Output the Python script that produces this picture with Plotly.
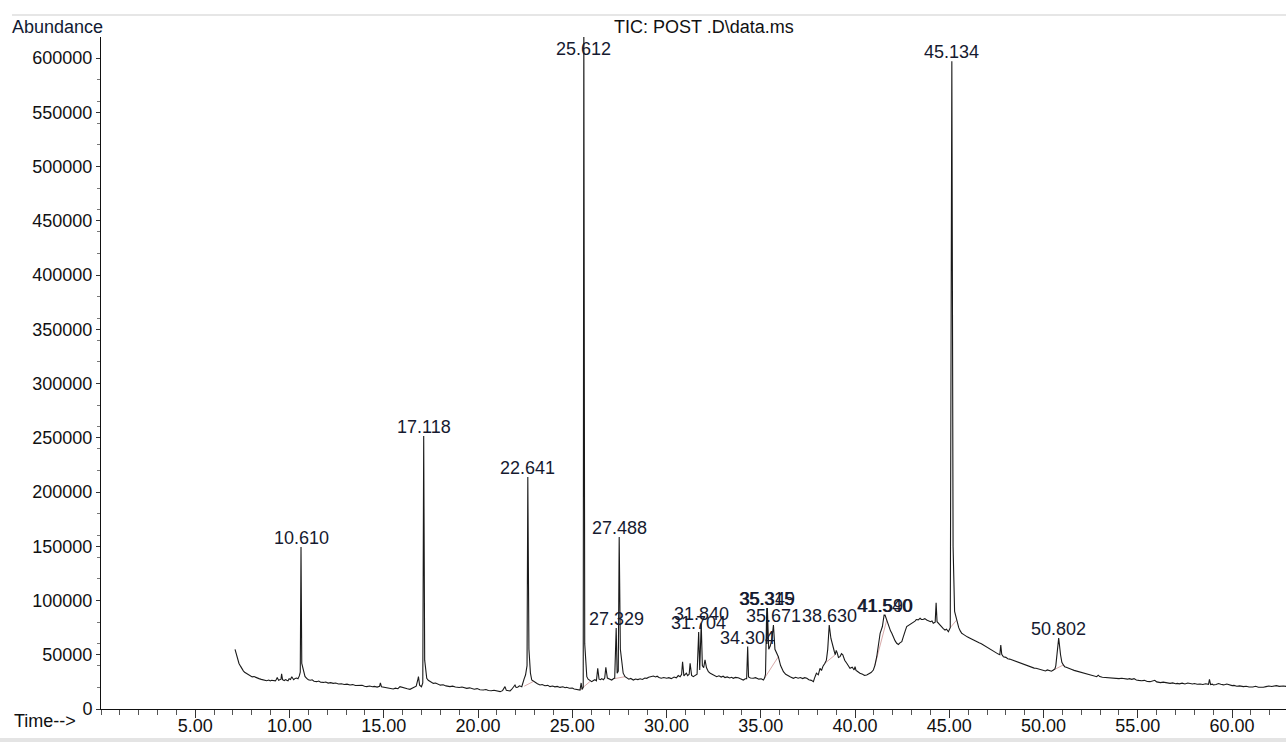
import plotly.graph_objects as go

# Total ion chromatogram, (retention time in min, abundance) pairs by time window
rt_07_11 = [
    (7.11, 55000), (7.18, 50500), (7.23, 47000), (7.32, 42000), (7.40, 39500), (7.46, 37500),
    (7.55, 35200), (7.62, 33800), (7.72, 32600), (7.82, 31300), (7.92, 30800), (8.02, 29600),
    (8.12, 29900), (8.26, 28500), (8.38, 28000), (8.50, 27300), (8.62, 27000), (8.70, 26400),
    (8.79, 26100), (8.90, 26700), (8.98, 25900), (9.05, 26500), (9.15, 26200), (9.25, 26000),
    (9.30, 27200), (9.35, 29000), (9.42, 26400), (9.50, 27000), (9.55, 27500), (9.58, 32500),
    (9.63, 27000), (9.72, 26200), (9.80, 27100), (9.85, 26500), (9.92, 26000), (9.98, 27800),
    (10.05, 27200), (10.12, 29800), (10.17, 27500), (10.22, 27000), (10.30, 28200),
    (10.38, 28500), (10.45, 27900), (10.52, 30500), (10.57, 34000), (10.61, 149300),
    (10.65, 42000), (10.73, 35900), (10.82, 30000), (10.91, 28300),
]
rt_11_17 = [
    (11.00, 27000), (11.10, 26500), (11.20, 26900), (11.30, 25600), (11.44, 25200),
    (11.55, 25800), (11.65, 24700), (11.80, 24500), (11.92, 24900), (12.05, 23900),
    (12.18, 24300), (12.32, 23600), (12.45, 23900), (12.60, 23100), (12.75, 23200),
    (12.90, 22600), (13.05, 22900), (13.21, 22100), (13.35, 22500), (13.50, 21700),
    (13.70, 21600), (13.85, 21900), (13.98, 21000), (14.10, 20600), (14.25, 21200),
    (14.40, 20500), (14.50, 20800), (14.65, 20200), (14.78, 21000), (14.82, 24000),
    (14.88, 20400), (15.00, 20100), (15.10, 19600), (15.20, 19500), (15.35, 19000),
    (15.50, 18400), (15.62, 19200), (15.75, 18700), (15.86, 20600), (15.98, 19800),
    (16.10, 19000), (16.25, 18600), (16.39, 18100), (16.50, 19000), (16.60, 19500),
    (16.72, 21000), (16.80, 26500), (16.84, 29800), (16.90, 22000), (17.00, 20500),
    (17.07, 24000), (17.118, 251600), (17.17, 45000), (17.28, 28300), (17.36, 26500),
    (17.45, 25500), (17.55, 24400), (17.63, 23600), (17.75, 23900), (17.88, 22600),
]
rt_18_25 = [
    (18.00, 22000), (18.15, 22400), (18.30, 21300), (18.51, 20600), (18.65, 21100),
    (18.80, 20200), (19.00, 19800), (19.15, 20300), (19.28, 19400), (19.40, 19000),
    (19.55, 19500), (19.68, 18600), (19.80, 18200), (19.95, 18800), (20.10, 17800),
    (20.28, 17500), (20.42, 17900), (20.55, 17100), (20.70, 16800), (20.85, 17300),
    (21.00, 16400), (21.17, 16000), (21.30, 16900), (21.43, 20600), (21.50, 17200),
    (21.55, 17000), (21.70, 16600), (21.78, 18000), (21.85, 19500), (21.96, 22100),
    (22.02, 19800), (22.10, 20000), (22.20, 21400), (22.32, 20600), (22.45, 28000),
    (22.52, 31300), (22.60, 40000), (22.641, 213800), (22.70, 55000), (22.78, 33000),
    (22.85, 26700), (22.95, 25500), (23.05, 24000), (23.15, 23200), (23.29, 22100),
    (23.40, 22600), (23.55, 21400), (23.70, 21800), (23.82, 20600), (23.95, 21200),
    (24.08, 20400), (24.20, 20800), (24.35, 19900), (24.50, 20500), (24.62, 19600),
    (24.70, 20000), (24.85, 19100), (25.00, 19300), (25.10, 18500), (25.25, 18200),
    (25.41, 17500), (25.47, 24000), (25.52, 18000), (25.58, 20000), (25.612, 640000),
    (25.66, 60000), (25.72, 35000), (25.77, 29800), (25.84, 27500), (25.90, 26500),
    (25.97, 25800),
]
rt_26_33 = [
    (26.03, 25200), (26.12, 26300), (26.20, 27000), (26.28, 26000), (26.35, 37500),
    (26.42, 27500), (26.50, 27100), (26.56, 28000), (26.65, 27000), (26.72, 28500),
    (26.78, 38400), (26.86, 28500), (26.95, 27600), (27.02, 27200), (27.09, 26700),
    (27.18, 27900), (27.25, 28500), (27.329, 74600), (27.38, 33000), (27.44, 35000),
    (27.488, 158500), (27.55, 55000), (27.62, 45000), (27.70, 33000), (27.80, 29800),
    (27.90, 28600), (28.00, 27500), (28.10, 28200), (28.24, 26700), (28.35, 27600),
    (28.48, 27100), (28.60, 27800), (28.72, 27200), (28.85, 28600), (28.95, 28300),
    (29.05, 29300), (29.18, 29900), (29.30, 30400), (29.42, 29600), (29.50, 30200),
    (29.60, 29000), (29.72, 28400), (29.85, 29000), (30.01, 28300), (30.12, 28900),
    (30.25, 28000), (30.40, 29500), (30.52, 28700), (30.62, 30800), (30.72, 29800),
    (30.80, 32000), (30.85, 43600), (30.92, 30500), (30.98, 31500), (31.05, 33000),
    (31.12, 30800), (31.20, 32000), (31.25, 42100), (31.33, 31000), (31.42, 29800),
    (31.50, 30500), (31.62, 32000), (31.704, 71000), (31.76, 36000), (31.840, 79000),
    (31.90, 40000), (31.97, 38000), (32.04, 45200), (32.12, 38000), (32.22, 34400),
    (32.32, 33000), (32.45, 31500), (32.55, 30500), (32.66, 29800), (32.78, 30600),
    (32.90, 29400), (33.00, 30200),
]
rt_33_41 = [
    (33.10, 29000), (33.22, 29600), (33.35, 28600), (33.45, 29200), (33.54, 28300),
    (33.65, 29100), (33.80, 28800), (33.92, 27800), (34.07, 26700), (34.18, 27900),
    (34.25, 28000), (34.304, 57500), (34.35, 29500), (34.45, 28600), (34.60, 28300),
    (34.72, 28900), (34.82, 27700), (34.90, 27500), (35.02, 27900), (35.14, 26700),
    (35.20, 28500), (35.25, 32000), (35.315, 93000), (35.33, 60000), (35.349, 93000),
    (35.42, 55000), (35.50, 58000), (35.58, 63600), (35.671, 77400), (35.75, 55000),
    (35.85, 51000), (35.93, 48200), (36.05, 40000), (36.12, 37500), (36.20, 34400),
    (36.32, 32000), (36.45, 30500), (36.58, 29600), (36.73, 28300), (36.85, 29200),
    (36.98, 28400), (37.10, 29000), (37.22, 28000), (37.33, 28900), (37.44, 28300),
    (37.55, 27000), (37.68, 26400), (37.79, 25200), (37.85, 28500), (37.95, 33000),
    (38.05, 31500), (38.14, 37500), (38.22, 35500), (38.30, 39500), (38.40, 42100),
    (38.48, 45000), (38.55, 55000), (38.630, 77400), (38.72, 65000), (38.78, 60000),
    (38.85, 57400), (38.90, 53000), (38.95, 50000), (39.00, 54000), (39.05, 52000),
    (39.12, 47500), (39.20, 48200), (39.28, 51000), (39.35, 50000), (39.45, 45000),
    (39.56, 42100), (39.65, 39500), (39.73, 37500), (39.85, 38500), (39.95, 36000),
    (40.00, 39000), (40.05, 35500), (40.10, 35000), (40.18, 33500), (40.26, 32900),
    (40.40, 32000), (40.50, 31000), (40.62, 31300), (40.75, 32500), (40.85, 33600),
    (40.97, 35900),
]
rt_41_47 = [
    (41.05, 40000), (41.15, 48200), (41.25, 58000), (41.33, 69800), (41.45, 76000),
    (41.540, 86600), (41.590, 86600), (41.68, 82000), (41.80, 75000), (41.88, 72000),
    (41.95, 69800), (42.05, 65000), (42.12, 63000), (42.21, 60600), (42.30, 59500),
    (42.38, 61000), (42.48, 62000), (42.55, 66000), (42.60, 70000), (42.67, 72500),
    (42.74, 75900), (42.82, 76800), (42.90, 78500), (43.00, 79300), (43.09, 80500),
    (43.18, 81000), (43.25, 82500), (43.35, 82200), (43.45, 83600), (43.52, 82600),
    (43.60, 82500), (43.70, 83300), (43.80, 82000), (43.90, 81500), (44.00, 80500),
    (44.08, 81200), (44.15, 79000), (44.25, 80000), (44.30, 98000), (44.35, 80500),
    (44.42, 79000), (44.50, 77000), (44.60, 75000), (44.68, 74000), (44.77, 72800),
    (44.85, 73500), (44.95, 71200), (45.05, 75000), (45.134, 597000), (45.20, 150000),
    (45.28, 90000), (45.39, 82000), (45.50, 75000), (45.58, 72000), (45.66, 69800),
    (45.75, 68800), (45.85, 67500), (45.95, 66500), (46.10, 65200), (46.20, 64200),
    (46.32, 63200), (46.45, 62000), (46.58, 61000), (46.70, 60200), (46.81, 59000),
    (46.92, 58200),
]
rt_47_54 = [
    (47.05, 56500), (47.15, 55000), (47.25, 54600), (47.38, 52400), (47.52, 51300),
    (47.60, 50600), (47.68, 50000), (47.73, 59000), (47.78, 50500), (47.87, 48200),
    (48.00, 47600), (48.10, 46300), (48.20, 46000), (48.35, 45000), (48.48, 44200),
    (48.58, 43600), (48.70, 42600), (48.80, 42200), (48.90, 41500), (49.02, 40600),
    (49.15, 40000), (49.28, 39000), (49.40, 38600), (49.50, 37700), (49.60, 37500),
    (49.75, 36600), (49.88, 36300), (49.99, 35900), (50.10, 35100), (50.20, 36000),
    (50.30, 35500), (50.42, 34800), (50.52, 35900), (50.60, 37000), (50.65, 40000),
    (50.72, 50000), (50.802, 65400), (50.90, 50000), (50.97, 43000), (51.05, 40600),
    (51.12, 39000), (51.20, 38500), (51.30, 38000), (51.41, 37500), (51.50, 36400),
    (51.62, 35600), (51.75, 35000), (51.88, 34000), (52.00, 33500), (52.11, 32900),
    (52.22, 32300), (52.35, 31900), (52.45, 31500), (52.58, 30600), (52.70, 30400),
    (52.82, 29800), (52.90, 31200), (52.98, 29900), (53.12, 29300), (53.30, 29000),
    (53.45, 29400), (53.60, 28600), (53.75, 28900), (53.88, 28300),
]
rt_54_63 = [
    (54.00, 28000), (54.15, 28400), (54.30, 27800), (54.45, 27500), (54.55, 28000),
    (54.68, 27300), (54.80, 28000), (54.92, 26800), (55.05, 26400), (55.20, 26000),
    (55.35, 26400), (55.50, 25400), (55.65, 25200), (55.80, 25800), (55.90, 26500),
    (56.00, 25000), (56.10, 24600), (56.20, 24300), (56.35, 24800), (56.50, 24000),
    (56.60, 23800), (56.71, 23600), (56.85, 24100), (57.00, 23300), (57.10, 23600),
    (57.20, 23200), (57.35, 23800), (57.50, 23100), (57.65, 24000), (57.77, 23600),
    (57.90, 23100), (58.00, 23500), (58.15, 22800), (58.30, 23000), (58.45, 22600),
    (58.60, 23200), (58.70, 22900), (58.75, 22800), (58.80, 27300), (58.86, 22500),
    (58.95, 22900), (59.01, 22100), (59.15, 22600), (59.28, 23500), (59.40, 22800),
    (59.55, 22200), (59.72, 23000), (59.85, 22100), (60.00, 21600), (60.10, 21800),
    (60.25, 21000), (60.40, 21300), (60.60, 20600), (60.75, 21000), (60.90, 20300),
    (61.10, 20300), (61.25, 20900), (61.40, 20100), (61.55, 19800), (61.66, 20000),
    (61.80, 20600), (61.95, 21200), (62.10, 20800), (62.20, 21000), (62.35, 21500),
    (62.50, 20900), (62.62, 21300), (62.72, 21200), (62.90, 20800),
]

# Integration baselines under the integrated peaks: (start time, start abundance, end time, end abundance)
integration_baselines = [
    (22.45, 21000, 22.95, 25500),
    (25.41, 17500, 25.97, 25800),
    (27.25, 28000, 27.80, 29800),
    (35.20, 28500, 35.93, 48200),
    (38.40, 42100, 38.95, 50000),
    (41.05, 40000, 41.68, 82000),
    (45.05, 75000, 45.39, 82000),
    (50.52, 35900, 51.05, 40600),
]

# Labelled peaks (retention times)
peak_times = [10.610, 17.118, 22.641, 25.612, 27.329, 27.488, 31.704, 31.840, 34.304,
              35.315, 35.349, 35.671, 38.630, 41.540, 41.590, 45.134, 50.802]
peak_labels = ["10.610", "17.118", "22.641", "25.612", "27.329", "27.488", "31.704", "31.840",
               "34.304", "35.315", "35.349", "35.671", "38.630", "41.540", "41.590", "45.134",
               "50.802"]

x_ticks = [5, 10, 15, 20, 25, 30, 35, 40, 45, 50, 55, 60]
y_ticks = [0, 50000, 100000, 150000, 200000, 250000, 300000, 350000, 400000, 450000,
           500000, 550000, 600000]

points = rt_07_11 + rt_11_17 + rt_18_25 + rt_26_33 + rt_33_41 + rt_41_47 + rt_47_54 + rt_54_63
time_min = [p[0] for p in points]
abundance = [p[1] for p in points]

X_MAX = 62.86
Y_MAX = 619400
FONT = "Liberation Sans, Arial, Helvetica, sans-serif"
LABEL_COLOR = "#161a30"

fig = go.Figure()

# faint integration baselines drawn beneath the signal
base_x, base_y = [], []
for t0, a0, t1, a1 in integration_baselines:
    base_x += [t0, t1, None]
    base_y += [a0, a1, None]
fig.add_trace(go.Scatter(
    x=base_x, y=base_y, mode="lines",
    line=dict(color="#d8aaaa", width=1),
    hoverinfo="skip", showlegend=False,
))

fig.add_trace(go.Scatter(
    x=time_min, y=abundance, mode="lines",
    line=dict(color="#1a1a1a", width=1.1),
    hoverinfo="x+y", showlegend=False,
))

# peak labels sit just above each apex (or against the top edge if clipped)
lookup = dict(points)
for t, txt in zip(peak_times, peak_labels):
    h = lookup[t]
    if h >= Y_MAX:
        fig.add_annotation(x=t, y=Y_MAX, text=txt, showarrow=False, xanchor="center",
                           yanchor="top", font=dict(family=FONT, size=18, color=LABEL_COLOR))
    else:
        fig.add_annotation(x=t, y=h, text=txt, showarrow=False, xanchor="center",
                           yanchor="bottom", yshift=-3,
                           font=dict(family=FONT, size=18, color=LABEL_COLOR))

L, R, T, B = 101, 1286, 37, 709
W, H = 1286, 742


def px_x(px):
    return (px - L) / (R - L)


def px_y(py):
    return (B - py) / (B - T)


fig.add_annotation(x=px_x(10), y=px_y(27), xref="paper", yref="paper", text="Abundance",
                   showarrow=False, xanchor="left", yanchor="middle",
                   font=dict(family=FONT, size=18, color="#111a33"))
fig.add_annotation(x=px_x(704), y=px_y(27), xref="paper", yref="paper",
                   text="TIC: POST .D\\data.ms", showarrow=False, xanchor="center",
                   yanchor="middle", font=dict(family=FONT, size=18, color="#111111"))
fig.add_annotation(x=px_x(12), y=px_y(721), xref="paper", yref="paper", text="Time-->",
                   showarrow=False, xanchor="left", yanchor="middle",
                   font=dict(family=FONT, size=18, color="#111111"))

# thin frame rules at the top and bottom of the page
fig.add_shape(type="line", xref="paper", yref="paper", x0=px_x(12), x1=1.0,
              y0=px_y(15), y1=px_y(15), line=dict(color="#e6e6e6", width=2))
fig.add_shape(type="line", xref="paper", yref="paper", x0=px_x(0), x1=1.0,
              y0=px_y(740), y1=px_y(740), line=dict(color="#e4e4e4", width=4))

fig.update_layout(
    width=W, height=H,
    margin=dict(l=L, r=W - R, t=T, b=H - B, pad=0),
    paper_bgcolor="white", plot_bgcolor="white",
    font=dict(family=FONT, size=18, color="#111111"),
    showlegend=False,
)
fig.update_xaxes(
    range=[0, X_MAX], tickvals=x_ticks, tickformat=".2f",
    showgrid=False, zeroline=False, showline=True, linecolor="#111111", linewidth=1,
    ticks="outside", ticklen=8, tickwidth=1, tickcolor="#333333", ticklabelstandoff=-8,
    tickfont=dict(family=FONT, size=18, color="#111111"),
    minor=dict(dtick=1, ticks="outside", ticklen=5, tickcolor="#555555", showgrid=False),
)
fig.update_yaxes(
    range=[0, Y_MAX], tickvals=y_ticks, tickformat="d",
    showgrid=False, zeroline=False, showline=True, linecolor="#111111", linewidth=1,
    ticks="outside", ticklen=4, tickwidth=1, tickcolor="#333333",
    tickfont=dict(family=FONT, size=18, color="#111111"),
    minor=dict(dtick=20000, ticks="outside", ticklen=3, tickcolor="#777777", showgrid=False),
)

fig.write_html("out.html")
